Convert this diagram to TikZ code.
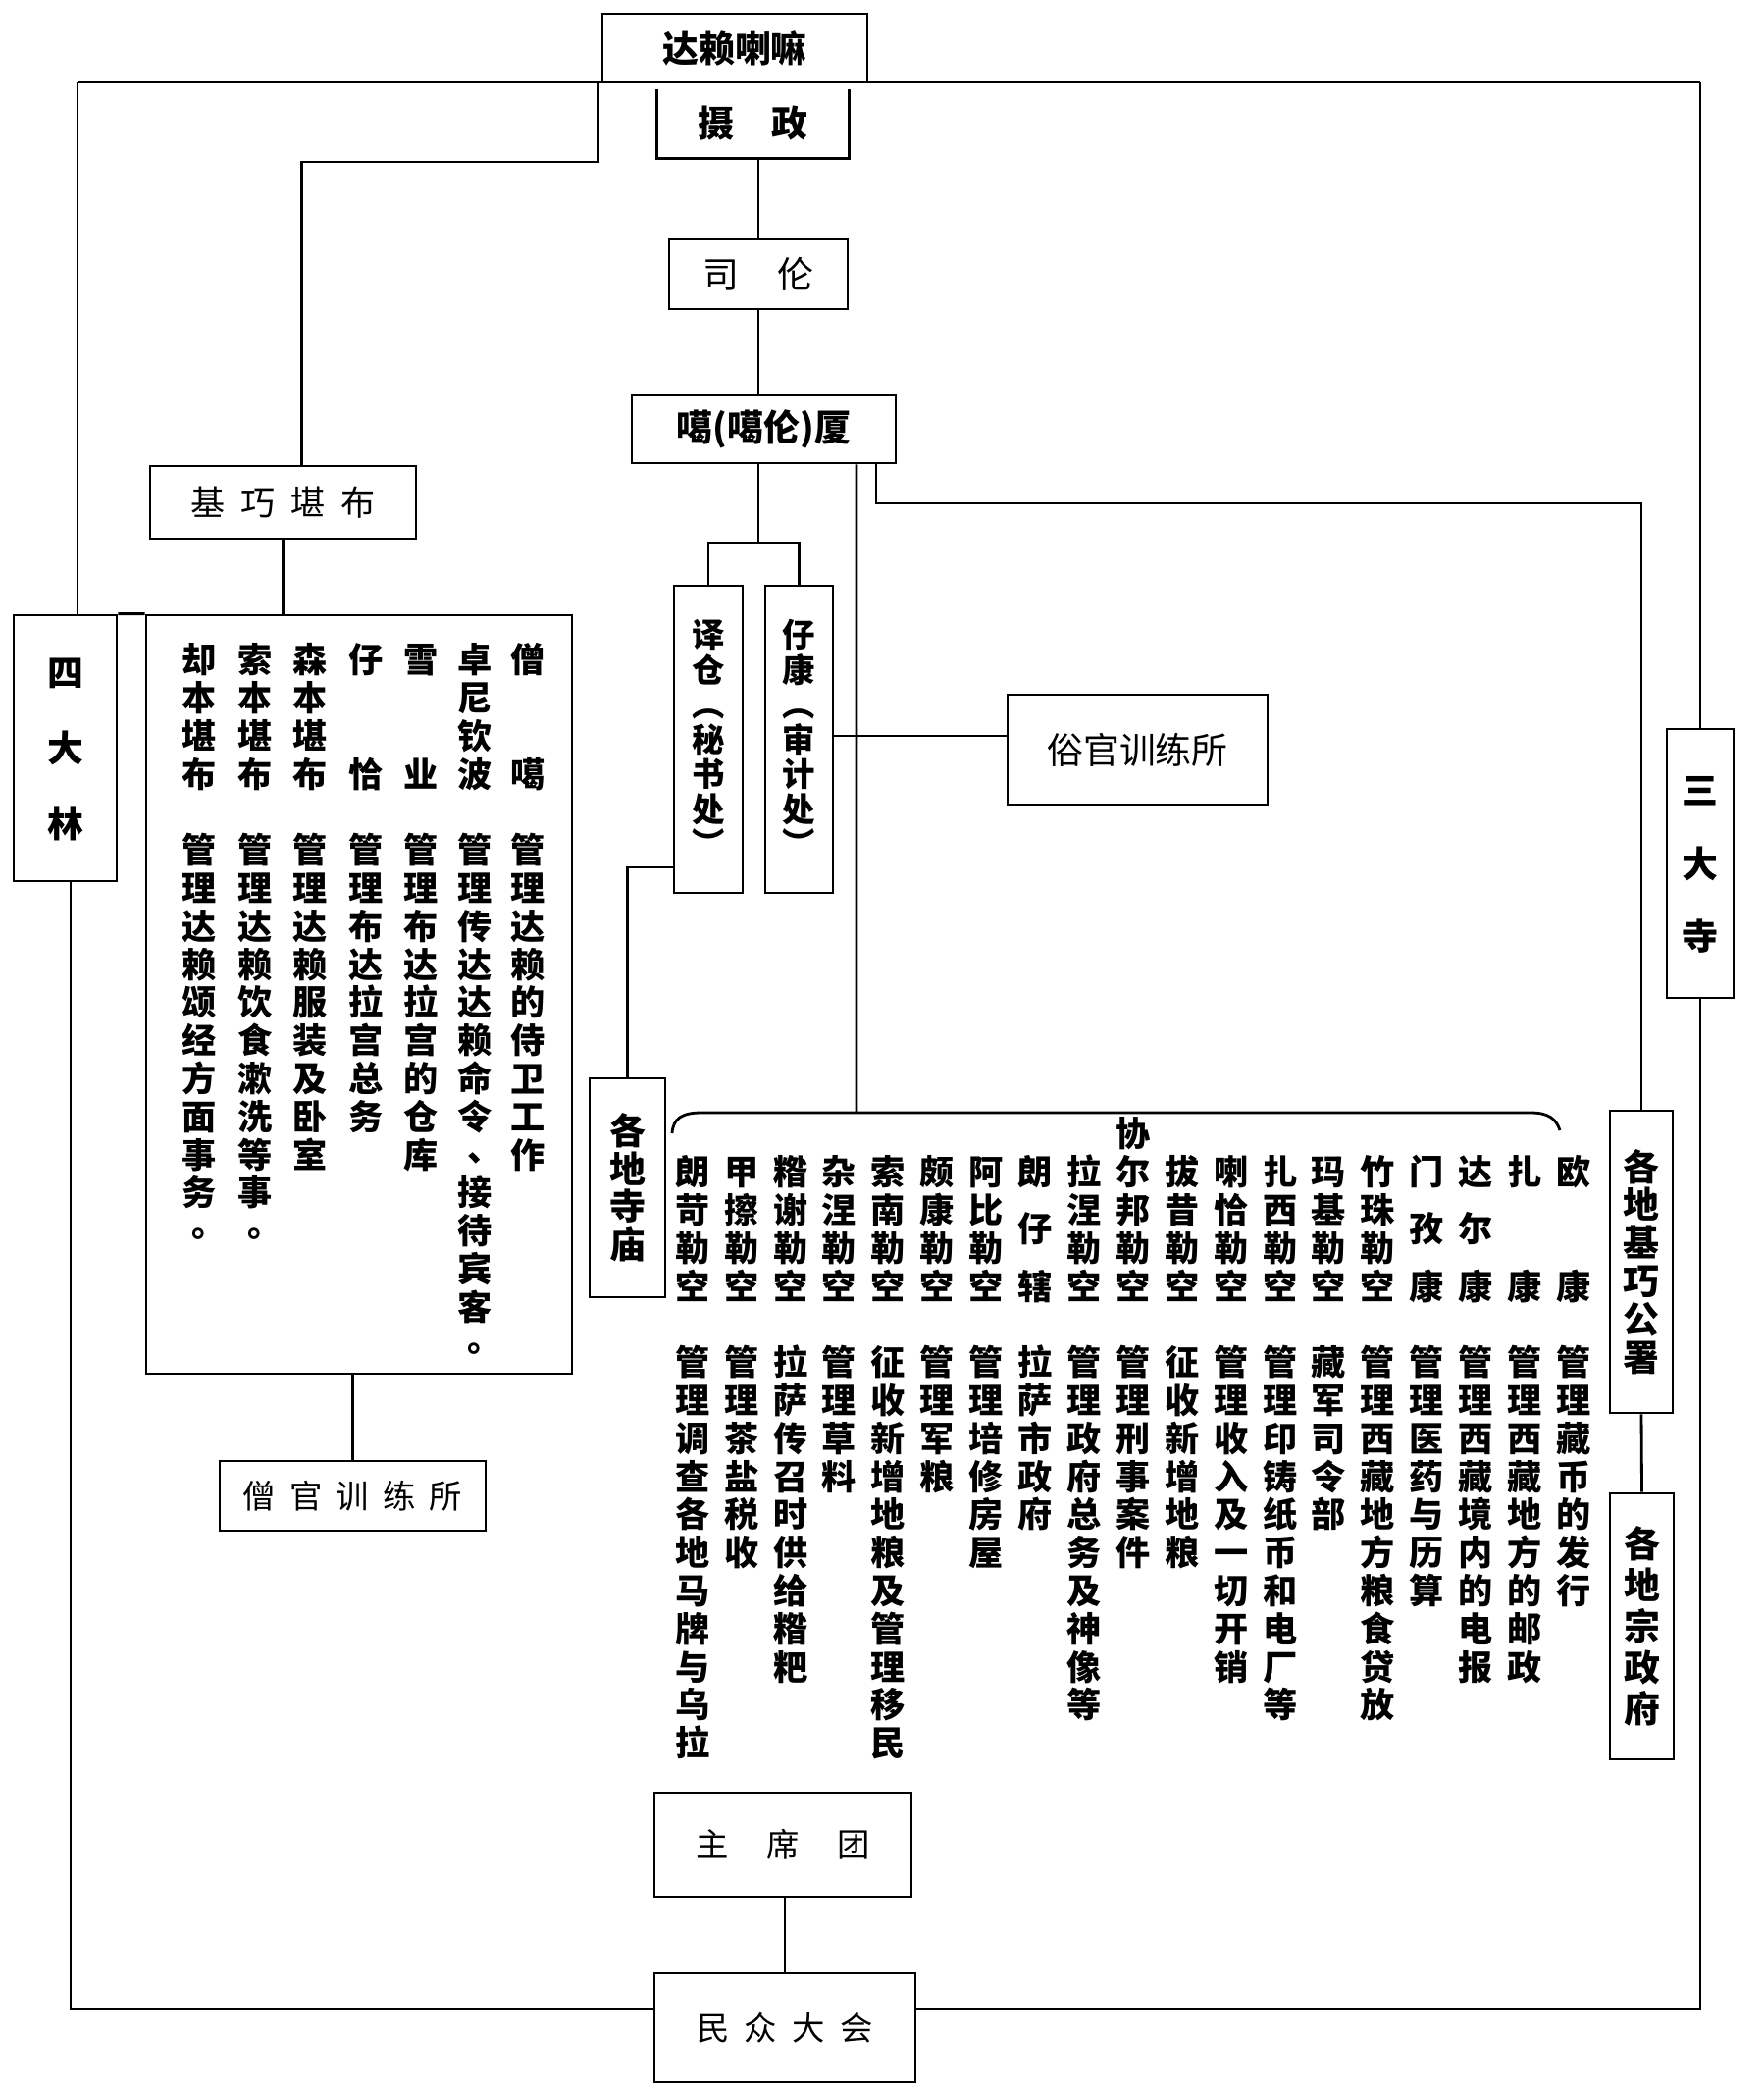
\documentclass[tikz,border=0pt]{standalone}
\usepackage{fontspec}
\newfontfamily\cjk{Noto Sans CJK SC}

% vertical text: one character per slot, * = empty slot, + = half slot
\makeatletter
\newdimen\vtpitch
\def\vtstar{*}\def\vtplus{+}\def\vtdot{。}\def\vtcomma{、}
\newcommand\vtbox[1]{\hbox to 1em{\hss\vrule height.88em depth.12em width0pt#1\hss}}
\newcommand\vtpunct[1]{\vtbox{\raise.2em\hbox{\kern.3em#1\kern-.3em}}}
\newcommand\vtext[2][11.04pt]{\vtop{\vtpitch=#1\baselineskip=\vtpitch
  \lineskiplimit=-\maxdimen\lineskip=0pt
  \@tfor\vtc:=#2\do{%
    \ifx\vtc\vtstar\vtbox{}%
    \else\ifx\vtc\vtplus\vskip.5\vtpitch
    \else\ifx\vtc\vtdot\vtpunct{\vtc}%
    \else\ifx\vtc\vtcomma\vtpunct{\vtc}%
    \else\vtbox{\vtc}\fi\fi\fi\fi}}}
\newcommand\htext[2]{\@tfor\htc:=#2\do{\htc\hskip#1}\unskip}
\makeatother

\tikzset{
  box/.style={draw, inner sep=0pt},
  col/.style={inner sep=0pt, anchor=north, font=\cjk\bfseries\fontsize{10}{12}\selectfont},
  bold/.style={font=\cjk\bfseries\fontsize{10.5}{12}\selectfont},
  thin/.style={font=\cjk\fontsize{9.5}{12}\selectfont},
}

\begin{document}
\begin{tikzpicture}[x=0.1mm, y=-0.1mm, line width=0.8pt]
\useasboundingbox (0,0) rectangle (1797,2126);

% top of the chart
\node[box, bold, minimum width=27mm, minimum height=7mm] (dalai) at (749,49) {达赖喇嘛};
\node[inner sep=0pt, bold, minimum width=19.3mm, minimum height=6.8mm] (shezheng) at (767.5,126) {\htext{11pt}{摄政}};
\draw (shezheng.north west) -- (shezheng.south west) -- (shezheng.south east) -- (shezheng.north east);
\node[box, font=\cjk\fontsize{10.5}{12}\selectfont, minimum width=18.2mm, minimum height=7.1mm] (silun) at (773,279.5) {\htext{11pt}{司伦}};
\node[box, bold, minimum width=26.9mm, minimum height=6.9mm] (gaxia) at (778.5,437.5) {噶(噶伦)厦};

\coordinate (tl) at (79,84);
\coordinate (tr) at (1733,84);
\coordinate (bl) at (72,2048);
\coordinate (br) at (1733,2048);
\coordinate (kq) at (610,84);
\coordinate (fork) at (773,553);
\coordinate (xie) at (873,1134);

% left side
\node[box, font=\cjk\fontsize{10}{12}\selectfont, minimum width=27.1mm, minimum height=7.4mm] (jiqiao) at (288.5,512) {\htext{4.5pt}{基巧堪布}};
\node[box, bold, minimum width=10.5mm, minimum height=27.1mm] (sidalin) at (66.5,762.5) {\vtext[21.9pt]{四大林}};
\node[box, minimum width=43.4mm, minimum height=77.3mm] (sengbox) at (366,1013.5) {};
\node[box, thin, minimum width=27.1mm, minimum height=7.1mm] (sengguan) at (359.5,1524.5) {\htext{4pt}{僧官训练所}};

\node[col] (sengga) at (538,653.4) {\vtext{僧**噶*管理达赖的侍卫工作}};
\node[col] (zhuoni) at (484,653.4) {\vtext{卓尼钦波*管理传达达赖命令、接待宾客。}};
\node[col] (xueye) at (429,653.4) {\vtext{雪**业*管理布达拉宫的仓库}};
\node[col] (zaiqia) at (373,653.4) {\vtext{仔**恰*管理布达拉宫总务}};
\node[col] (senben) at (316,653.4) {\vtext{森本堪布*管理达赖服装及卧室}};
\node[col] (suoben) at (260,653.4) {\vtext{索本堪布*管理达赖饮食漱洗等事。}};
\node[col] (queben) at (203,653.4) {\vtext{却本堪布*管理达赖颂经方面事务。}};

% middle
\node[box, font=\cjk\bfseries\fontsize{9.5}{12}\selectfont, minimum width=7mm, minimum height=31.3mm] (yicang) at (722,753.5) {\vtext[10.1pt]{译仓︵秘书处︶}};
\node[box, font=\cjk\bfseries\fontsize{9.5}{12}\selectfont, minimum width=6.9mm, minimum height=31.3mm] (zikang) at (814.5,753.5) {\vtext[10.1pt]{仔康︵审计处︶}};
\node[box, font=\cjk\fontsize{10.5}{12}\selectfont, minimum width=26.5mm, minimum height=11.2mm] (suguan) at (1159.5,764) {俗官训练所};
\node[box, bold, minimum width=7.7mm, minimum height=22.3mm] (simiao) at (639.5,1210.5) {\vtext[11pt]{各地寺庙}};

% right side
\node[box, bold, minimum width=6.8mm, minimum height=27.4mm] (sandasi) at (1733,880) {\vtext[21.3pt]{三大寺}};
\node[box, bold, minimum width=6.4mm, minimum height=30.8mm] (gongshu) at (1673,1286) {\vtext{各地基巧公署}};
\node[box, bold, minimum width=6.5mm, minimum height=27.1mm] (zongzf) at (1673.5,1657.5) {\vtext[11.95pt]{各地宗政府}};

% the offices under the kashag
\node[col] (oukang) at (1604.0,1175.4) {\vtext{欧**康*管理藏币的发行}};
\node[col] (zhakang) at (1554.1,1175.4) {\vtext{扎**康*管理西藏地方的邮政}};
\node[col] (daerkang) at (1504.2,1175.4) {\vtext{达+尔+康*管理西藏境内的电报}};
\node[col] (menzikang) at (1454.3,1175.4) {\vtext{门+孜+康*管理医药与历算}};
\node[col] (zhuzhu) at (1404.4,1175.4) {\vtext{竹珠勒空*管理西藏地方粮食贷放}};
\node[col] (maji) at (1354.5,1175.4) {\vtext{玛基勒空*藏军司令部}};
\node[col] (zhaxi) at (1304.6,1175.4) {\vtext{扎西勒空*管理印铸纸币和电厂等}};
\node[col] (laqia) at (1254.7,1175.4) {\vtext{喇恰勒空*管理收入及一切开销}};
\node[col] (baxi) at (1204.8,1175.4) {\vtext{拔昔勒空*征收新增地粮}};
\node[col] (xieer) at (1154.9,1136.6) {\vtext{协尔邦勒空*管理刑事案件}};
\node[col] (lanie) at (1105.0,1175.4) {\vtext{拉涅勒空*管理政府总务及神像等}};
\node[col] (langzi) at (1055.1,1175.4) {\vtext{朗+仔+辖*拉萨市政府}};
\node[col] (abi) at (1005.2,1175.4) {\vtext{阿比勒空*管理培修房屋}};
\node[col] (pokang) at (955.3,1175.4) {\vtext{颇康勒空*管理军粮}};
\node[col] (suonan) at (905.4,1175.4) {\vtext{索南勒空*征收新增地粮及管理移民}};
\node[col] (zanie) at (855.5,1175.4) {\vtext{杂涅勒空*管理草料}};
\node[col] (zanxie) at (805.6,1175.4) {\vtext{糌谢勒空*拉萨传召时供给糌粑}};
\node[col] (jiacha) at (755.7,1175.4) {\vtext{甲擦勒空*管理茶盐税收}};
\node[col] (langgou) at (705.8,1175.4) {\vtext{朗苛勒空*管理调查各地马牌与乌拉}};

% bottom
\node[box, thin, minimum width=26.2mm, minimum height=10.6mm] (zhuxi) at (798,1880) {\htext{11pt}{主席团}};
\node[box, thin, minimum width=26.6mm, minimum height=11.1mm] (minzhong) at (800,2066.5) {\htext{4.4pt}{民众大会}};

% connectors
\draw (tl) -- (tr);
\draw (tl) -- (tl |- sidalin.north);
\draw (sidalin.north east) -- (sengbox.north west);
\draw (sidalin.south -| bl) -- (bl) -- (bl -| minzhong.west);
\draw (tr) -- (sandasi.north);
\draw (sandasi.south) -- (br) -- (br -| minzhong.east);
\draw (silun.north |- shezheng.south) -- (silun.north);
\draw (silun.south) -- (silun.south |- gaxia.north);
\draw (kq) -- (610,165) -| ([xshift=1.9mm]jiqiao.north);
\draw (jiqiao.south) -- (jiqiao.south |- sengbox.north);
\draw (sengguan.north |- sengbox.south) -- (sengguan.north);
\draw (gaxia.south -| fork) -- (fork);
\draw (yicang.north) -- (yicang.north |- fork) -- (zikang.north |- fork) -- (zikang.north);
\draw ([xshift=9.45mm]gaxia.south) -- (xie);
\draw ([xshift=11.45mm]gaxia.south) |- (gongshu.north |- 0,513) -- (gongshu.north);
\draw (zikang.east |- 0,750) -- (suguan.west |- 0,750);
\draw (yicang.west |- 0,884) -| (simiao.north);
\draw (gongshu.south) -- (zongzf.north);
\draw (minzhong.north |- zhuxi.south) -- (minzhong.north);
\draw (685,1155) .. controls (686,1140) and (695,1134) .. (715,1134) -- (xie) -- (1560,1134) .. controls (1578,1134) and (1586,1140) .. (1590,1152);

\end{tikzpicture}
\end{document}
